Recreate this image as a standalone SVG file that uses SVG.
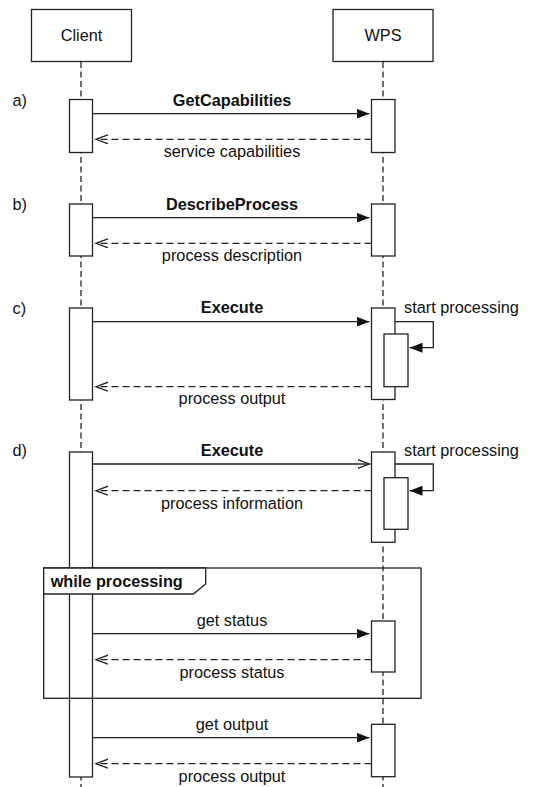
<svg xmlns="http://www.w3.org/2000/svg" width="541" height="787" viewBox="0 0 541 787">
  <style>
    text { font-family: "Liberation Sans", Arial, Helvetica, sans-serif; font-size: 16.3px; fill: #111; }
    .b { font-weight: bold; }
    .m { text-anchor: middle; }
    .box { fill: #fff; stroke: #222; stroke-width: 1.3; }
    .life { stroke: #222; stroke-width: 1.3; stroke-dasharray: 6 3.5; fill: none; }
    .call { stroke: #222; stroke-width: 1.3; fill: none; }
    .ret { stroke: #222; stroke-width: 1.3; fill: none; stroke-dasharray: 7 4; }
  </style>
  <defs>
    <marker id="filled" markerUnits="userSpaceOnUse" markerWidth="14" markerHeight="12" refX="13" refY="5" orient="auto">
      <path d="M0,0 L13,5 L0,10 Z" fill="#111"/>
    </marker>
    <marker id="open" markerUnits="userSpaceOnUse" markerWidth="14" markerHeight="12" refX="12" refY="5" orient="auto">
      <path d="M0,0.5 L12,5 L0,9.5" fill="none" stroke="#222" stroke-width="1.3"/>
    </marker>
  </defs>

  <!-- lifelines -->
  <g id="lifelines">
    <line class="life" x1="81" y1="62" x2="81" y2="787"/>
    <line class="life" x1="383" y1="62" x2="383" y2="787"/>
  </g>

  <!-- participants -->
  <g id="client">
    <rect class="box" x="31.5" y="9.5" width="100" height="52"/>
    <text class="m" x="81.5" y="41.3">Client</text>
  </g>
  <g id="wps">
    <rect class="box" x="333" y="9.5" width="100" height="52"/>
    <text class="m" x="383" y="41.3">WPS</text>
  </g>

  <!-- section labels -->
  <g id="section-labels">
    <text x="12.5" y="106">a)</text>
    <text x="12.5" y="210">b)</text>
    <text x="12.5" y="314">c)</text>
    <text x="12.5" y="456">d)</text>
  </g>

  <!-- activations -->
  <g id="activations">
    <rect class="box" x="69.5" y="99.5" width="23" height="53"/>
    <rect class="box" x="371.5" y="99.5" width="23.5" height="53"/>
    <rect class="box" x="69.5" y="204" width="23" height="52"/>
    <rect class="box" x="371.5" y="204" width="23.5" height="52"/>
    <rect class="box" x="69.5" y="308" width="23" height="92"/>
    <rect class="box" x="371.5" y="308" width="23.5" height="91.5"/>
    <rect class="box" x="384" y="334" width="24" height="52.7"/>
    <rect class="box" x="69.5" y="452" width="23" height="325"/>
    <rect class="box" x="371.5" y="452" width="23.5" height="90.3"/>
    <rect class="box" x="384" y="477.7" width="24" height="51.6"/>
    <rect class="box" x="371.5" y="621" width="23.5" height="51"/>
    <rect class="box" x="371.5" y="724.3" width="23.5" height="52.4"/>
  </g>

  <!-- loop frame -->
  <g id="loop-frame">
    <rect x="43.7" y="568" width="377.3" height="130.3" fill="none" stroke="#222" stroke-width="1.3"/>
    <path d="M43.7,568 H205.7 V584 L193.3,594 H43.7 Z" fill="#fff" stroke="#222" stroke-width="1.3"/>
    <text class="b" x="50.7" y="586.5">while processing</text>
  </g>

  <!-- messages -->
  <g id="connectors">
    <line class="call" x1="92.5" y1="113.7" x2="369.5" y2="113.7" marker-end="url(#filled)"/>
    <line class="ret" x1="371.5" y1="139.3" x2="96" y2="139.3" marker-end="url(#open)"/>

    <line class="call" x1="92.5" y1="217.7" x2="369.5" y2="217.7" marker-end="url(#filled)"/>
    <line class="ret" x1="371.5" y1="243.3" x2="96" y2="243.3" marker-end="url(#open)"/>

    <line class="call" x1="92.5" y1="321.7" x2="369.5" y2="321.7" marker-end="url(#filled)"/>
    <path class="call" d="M395,321.7 H433.3 V347.7 H409.5" marker-end="url(#filled)"/>
    <line class="ret" x1="371.5" y1="386.7" x2="96" y2="386.7" marker-end="url(#open)"/>

    <line class="call" x1="92.5" y1="464" x2="369.5" y2="464" marker-end="url(#open)"/>
    <path class="call" d="M395,464 H433.3 V490.7 H409.5" marker-end="url(#filled)"/>
    <line class="ret" x1="371.5" y1="490.7" x2="96" y2="490.7" marker-end="url(#open)"/>

    <line class="call" x1="92.5" y1="633.7" x2="369.5" y2="633.7" marker-end="url(#filled)"/>
    <line class="ret" x1="371.5" y1="659.7" x2="96" y2="659.7" marker-end="url(#open)"/>

    <line class="call" x1="92.5" y1="737.7" x2="369.5" y2="737.7" marker-end="url(#filled)"/>
    <line class="ret" x1="371.5" y1="763.7" x2="96" y2="763.7" marker-end="url(#open)"/>
  </g>

  <!-- message labels -->
  <g id="message-labels">
    <text class="m b" x="232" y="105.6">GetCapabilities</text>
    <text class="m" x="232" y="156.7">service capabilities</text>
    <text class="m b" x="232" y="209.5">DescribeProcess</text>
    <text class="m" x="232" y="260.7">process description</text>
    <text class="m b" x="232" y="313.4">Execute</text>
    <text x="404" y="313.4">start processing</text>
    <text class="m" x="232" y="404.3">process output</text>
    <text class="m b" x="232" y="456">Execute</text>
    <text x="404" y="456">start processing</text>
    <text class="m" x="232" y="509">process information</text>
    <text class="m" x="232" y="626">get status</text>
    <text class="m" x="232" y="678.3">process status</text>
    <text class="m" x="232" y="730">get output</text>
    <text class="m" x="232" y="781.7">process output</text>
  </g>
</svg>
